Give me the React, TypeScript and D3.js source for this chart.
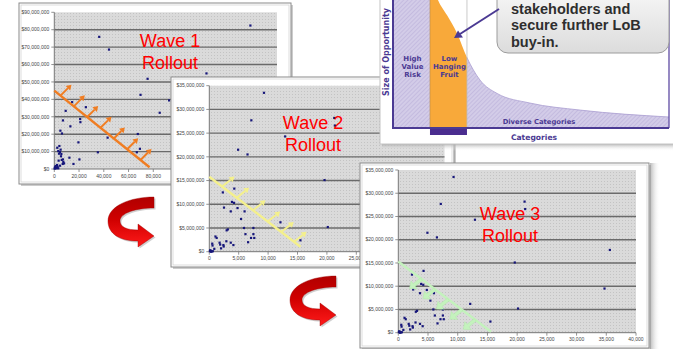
import React from 'react';
import * as d3 from 'd3';

// ---------- DATA ----------
// Wave 1 scatter: [count, $ value]
const wave1Points: [number, number][] = [
  [36300, 75.9e6], [44200, 68.6e6], [75400, 51.8e6], [69700, 42.6e6], [92800, 39.4e6], [85200, 32.3e6],
  [14400, 38.4e6], [25500, 35.5e6], [9200, 33.4e6], [7000, 27.9e6], [20900, 28.7e6], [21100, 26.9e6],
  [13000, 24.5e6], [4900, 22.0e6], [6200, 20.4e6], [43100, 18.0e6], [19500, 15.3e6], [67500, 20.1e6],
  [35200, 9.6e6], [69200, 11.6e6], [66700, 9.6e6], [12200, 6.5e6], [20300, 5.5e6], [15500, 2.9e6],
  [158500, 82.4e6], [123000, 54.9e6],
  [2400, 12.2e6], [4100, 13.2e6], [3200, 10.3e6], [4600, 9.7e6], [3800, 8.8e6], [5400, 7.3e6],
  [5700, 8.6e6], [5100, 11.1e6], [6000, 5.2e6], [7000, 5.5e6], [7300, 4.0e6], [6800, 2.9e6],
  [3500, 4.8e6], [2200, 2.3e6], [1100, 1.7e6], [2700, 1.3e6], [4600, 1.9e6], [500, 0.8e6],
  [1400, 0.4e6], [3200, 0.4e6], [7900, 3.2e6], [300, 0.2e6], [800, 1.0e6], [2000, 0.6e6],
];

// Wave 2 / Wave 3 scatter (same data set)
const wave23Points: [number, number][] = [
  [9300, 33.5e6], [7150, 27.7e6], [21250, 28.2e6], [21350, 26.6e6], [12900, 24.3e6], [4900, 21.5e6],
  [6500, 20.5e6], [35600, 17.8e6], [19600, 15.1e6], [4250, 13.3e6], [2300, 12.5e6], [3850, 10.5e6],
  [4200, 10.3e6], [2500, 9.3e6], [4800, 9.2e6], [3650, 8.5e6], [6000, 8.5e6], [5400, 6.9e6],
  [12100, 6.2e6], [34700, 9.5e6], [20150, 5.2e6], [5900, 5.0e6], [7500, 5.0e6], [3150, 4.7e6],
  [2950, 4.5e6], [6150, 3.7e6], [7500, 3.7e6], [7100, 2.9e6], [7650, 2.9e6], [1050, 3.2e6],
  [1250, 2.9e6], [6600, 2.0e6], [2900, 2.2e6], [3650, 1.9e6], [4100, 1.4e6], [1750, 1.9e6],
  [1850, 1.5e6], [2400, 1.4e6], [2450, 1.1e6], [2000, 0.7e6], [500, 1.7e6], [550, 1.3e6],
  [850, 0.6e6], [15500, 2.4e6], [100, 0.1e6], [250, 0.2e6], [400, 0.05e6], [600, 0.1e6],
  [150, 0.3e6], [300, 0.0],
];

const wave1XTicks = [0, 20000, 40000, 60000, 80000, 100000, 120000, 140000, 160000, 180000];
const wave1YTicks = [0, 10e6, 20e6, 30e6, 40e6, 50e6, 60e6, 70e6, 80e6, 90e6];
const wave23XTicks = [0, 5000, 10000, 15000, 20000, 25000, 30000, 35000, 40000];
const wave23YTicks = [0, 5e6, 10e6, 15e6, 20e6, 25e6, 30e6, 35e6];

// Opportunity long-tail curve: [category position 0-100, size 0-100]
const opportunityCurve: [number, number][] = [
  [13.4, 118], [16.3, 100], [19.6, 88], [23.2, 74], [26.8, 55], [31.5, 37.5],
  [37.7, 27], [49.6, 19.5], [67.8, 14], [100, 8.6],
];
const bandHigh = { lines: ['High', 'Value', 'Risk'], x0: 0, x1: 13.4 };
const bandLow = { lines: ['Low', 'Hanging', 'Fruit'], x0: 13.4, x1: 26.8 };
const calloutLines = ['stakeholders and', 'secure further LoB', 'buy-in.'];

// ---------- HELPERS ----------
const fmtMoney = d3.format('$,');
const fmtNum = d3.format(',');

type Guide = {
  from: [number, number]; to: [number, number]; t: number[];
  dx: number; dy: number; color: string; block?: boolean;
};
type Cfg = {
  id: string;
  frame: { x: number; y: number; w: number; h: number };
  plot: { l: number; r: number; t: number; b: number };
  xTicks: number[]; yTicks: number[]; lastXLabel: number;
  points: [number, number][];
  title: string[]; titleX: number; titleY: number;
  guide: Guide;
};

function ScatterPanel({ c }: { c: Cfg }) {
  const x = d3.scaleLinear().domain([0, c.xTicks[c.xTicks.length - 1]]).range([c.plot.l, c.plot.r]);
  const y = d3.scaleLinear().domain([0, c.yTicks[c.yTicks.length - 1]]).range([c.plot.b, c.plot.t]);
  const g = c.guide;
  const p0 = [x(g.from[0]), y(g.from[1])];
  const p1 = [x(g.to[0]), y(g.to[1])];
  const len = Math.hypot(g.dx, g.dy);
  const ux = g.dx / len, uy = g.dy / len;
  const nx = -uy, ny = ux;
  const f = c.frame;
  return (
    <g>
      <rect x={f.x + 2} y={f.y + 2} width={f.w} height={f.h} fill="#8f8f8f" opacity={0.45} />
      <rect x={f.x} y={f.y} width={f.w} height={f.h} fill="#fff" stroke="#8a8a8a" strokeWidth={1} />
      <rect x={f.x + 2} y={f.y + 2} width={f.w - 4} height={f.h - 4} fill="none" stroke="#d4d4d4" strokeWidth={0.8} />
      <rect x={c.plot.l} y={c.plot.t} width={c.plot.r - c.plot.l} height={c.plot.b - c.plot.t} fill="url(#dots)" />
      {c.yTicks.filter((v, i) => i > 0 && i < c.yTicks.length - 1).map((v) => (
        <line key={'g' + v} x1={c.plot.l} x2={c.plot.r} y1={y(v)} y2={y(v)} stroke="#6a6a6a" strokeWidth={1.4} />
      ))}
      <line x1={c.plot.l} x2={c.plot.l} y1={c.plot.t} y2={c.plot.b} stroke="#777" strokeWidth={1} />
      <line x1={c.plot.l} x2={c.plot.r} y1={c.plot.b} y2={c.plot.b} stroke="#777" strokeWidth={1} />
      {c.yTicks.map((v) => (
        <g key={'y' + v}>
          <line x1={c.plot.l - 3} x2={c.plot.l} y1={y(v)} y2={y(v)} stroke="#777" strokeWidth={0.8} />
          <text x={c.plot.l - 5} y={y(v)} dy="0.35em" textAnchor="end" fontSize={5}
            fontFamily="'Liberation Sans', Arial, sans-serif" fill="#444">{fmtMoney(v)}</text>
        </g>
      ))}
      {c.xTicks.map((v) => (
        <g key={'x' + v}>
          <line x1={x(v)} x2={x(v)} y1={c.plot.b} y2={c.plot.b + 3} stroke="#777" strokeWidth={0.8} />
          {v <= c.lastXLabel && (
            <text x={x(v)} y={c.plot.b + 7} dy="0.35em" textAnchor="middle" fontSize={5}
              fontFamily="'Liberation Sans', Arial, sans-serif" fill="#444">{fmtNum(v)}</text>
          )}
        </g>
      ))}
      {c.points.map((p, i) => (
        <rect key={'p' + i} x={x(p[0]) - 1.1} y={y(p[1]) - 1.1} width={2.2} height={2.2} fill="#16167a" />
      ))}
      <line x1={p0[0]} y1={p0[1]} x2={p1[0]} y2={p1[1]} stroke={g.color} strokeWidth={2.4} />
      {g.t.map((t, i) => {
        const bx = p0[0] + (p1[0] - p0[0]) * t;
        const by = p0[1] + (p1[1] - p0[1]) * t;
        const tx = bx + g.dx, ty = by + g.dy;
        if (g.block) {
          const hl = 6, sw = 1.6, hw = 5;
          const sx = tx - ux * hl, sy = ty - uy * hl;
          const pts = [
            [bx + nx * sw, by + ny * sw], [sx + nx * sw, sy + ny * sw], [sx + nx * hw, sy + ny * hw],
            [tx, ty], [sx - nx * hw, sy - ny * hw], [sx - nx * sw, sy - ny * sw], [bx - nx * sw, by - ny * sw],
          ];
          return <polygon key={'a' + i} points={pts.map((q) => q.join(',')).join(' ')} fill={g.color} stroke="#b0e8a8" strokeWidth={0.5} />;
        }
        const hl = 5, hw = 3.2;
        const sx = tx - ux * hl, sy = ty - uy * hl;
        const head = [[tx, ty], [sx + nx * hw, sy + ny * hw], [sx - nx * hw, sy - ny * hw]];
        return (
          <g key={'a' + i}>
            <line x1={bx} y1={by} x2={sx} y2={sy} stroke={g.color} strokeWidth={2} />
            <polygon points={head.map((q) => q.join(',')).join(' ')} fill={g.color} />
          </g>
        );
      })}
      {c.title.map((s, i) => (
        <text key={'t' + i} x={c.titleX} y={c.titleY + i * 21.7} textAnchor="middle" fontSize={18}
          fontFamily="'Liberation Sans', Arial, sans-serif" fill="#ff0000">{s}</text>
      ))}
    </g>
  );
}

function OpportunityPanel() {
  const x = d3.scaleLinear().domain([0, 100]).range([393, 669]);
  const y = d3.scaleLinear().domain([0, 100]).range([128, 0]);
  const area = d3.area<[number, number]>().x((d) => x(d[0])).y0(y(0)).y1((d) => y(d[1])).curve(d3.curveMonotoneX);
  const line = d3.line<[number, number]>().x((d) => x(d[0])).y((d) => y(d[1])).curve(d3.curveMonotoneX);
  const purple = '#4b3a93';
  const font = "'DejaVu Sans', Verdana, sans-serif";
  const bands = [bandHigh, bandLow];
  return (
    <g>
      <defs>
        <clipPath id="oppClip"><rect x={x(0)} y={y(100)} width={x(100) - x(0)} height={y(0) - y(100)} /></clipPath>
        <clipPath id="lowClip"><rect x={x(bandLow.x0)} y={y(100)} width={x(bandLow.x1) - x(bandLow.x0)} height={y(0) - y(100)} /></clipPath>
        <clipPath id="tailClip"><rect x={x(bandLow.x1)} y={y(100)} width={x(100) - x(bandLow.x1)} height={y(0) - y(100)} /></clipPath>
        <linearGradient id="callGrad" x1="0" y1="0" x2="0" y2="1">
          <stop offset="0" stopColor="#fbfbfb" />
          <stop offset="1" stopColor="#dcdcdc" />
        </linearGradient>
        <linearGradient id="panelShadow" x1="0" y1="0" x2="0" y2="1">
          <stop offset="0" stopColor="#a8a8a8" stopOpacity={0.8} />
          <stop offset="1" stopColor="#ffffff" stopOpacity={0} />
        </linearGradient>
      </defs>
      <rect x={382} y={144} width={300} height={7} fill="url(#panelShadow)" />
      <rect x={380} y={-6} width={300} height={150} fill="#fff" stroke="#c4c4c4" strokeWidth={1} />
      <g clipPath="url(#oppClip)">
        <rect x={x(bandHigh.x0)} y={y(100)} width={x(bandHigh.x1) - x(bandHigh.x0)} height={y(0) - y(100)} fill="url(#hatch)" />
        <path d={area(opportunityCurve) || ''} fill="url(#hatch)" clipPath="url(#tailClip)" />
        <path d={area(opportunityCurve) || ''} fill="#f8a93a" clipPath="url(#lowClip)" />
        <path d={line(opportunityCurve) || ''} fill="none" stroke="#a99dd0" strokeWidth={0.8} clipPath="url(#tailClip)" />
        <line x1={x(bandLow.x1)} x2={x(bandLow.x1)} y1={y(100)} y2={y(0)} stroke="#bdbdbd" strokeWidth={0.8} />
        <line x1={x(bandLow.x0)} x2={x(bandLow.x0)} y1={y(100)} y2={y(0)} stroke="#b38a50" strokeWidth={0.6} />
      </g>
      <line x1={x(100)} x2={x(100)} y1={-6} y2={y(0)} stroke="#6a58aa" strokeWidth={1.4} />
      <line x1={x(0)} x2={x(0)} y1={-6} y2={y(0) + 1} stroke={purple} strokeWidth={2} />
      <line x1={x(0) - 1} x2={x(100)} y1={y(0)} y2={y(0)} stroke={purple} strokeWidth={2} />
      <rect x={x(bandLow.x0)} y={y(0) + 1} width={x(bandLow.x1) - x(bandLow.x0)} height={6} fill="#4a2d8f" />
      {bands.map((b) => b.lines.map((s, i) => (
        <text key={s} x={(x(b.x0) + x(b.x1)) / 2 + 1} y={60.5 + i * 8} textAnchor="middle" fontSize={7}
          fontWeight="bold" fontFamily={font} fill={purple}>{s}</text>
      )))}
      <text x={539} y={123.5} textAnchor="middle" fontSize={6.8} fontWeight="bold" fontFamily={font} fill={purple}>Diverse Categories</text>
      <text x={534} y={139.5} textAnchor="middle" fontSize={7.6} fontWeight="bold" fontFamily={font} fill={purple}>Categories</text>
      <text transform="translate(389,52) rotate(-90)" textAnchor="middle" fontSize={8} fontWeight="bold" fontFamily={font} fill={purple}>Size of Opportunity</text>
      <rect x={497} y={-20} width={172} height={73} rx={11} fill="url(#callGrad)" stroke="#9c9c9c" strokeWidth={1} />
      {calloutLines.map((s, i) => (
        <text key={s} x={511} y={13.5 + i * 16.6} fontSize={14.5} fontWeight="bold"
          fontFamily="'Liberation Sans', Arial, sans-serif" fill="#2e2e2e">{s}</text>
      ))}
      <line x1={499} y1={9} x2={460} y2={34} stroke={purple} strokeWidth={2} />
      <polygon points="454,38 458,30.5 463,37.5" fill={purple} />
    </g>
  );
}

const uturnPath = 'M46,0 C22,0 0,9 0,24 C0,37 12,44 30,44 L30,50 L46,39 L30,27 L30,33 C19,33 12,30 12,24 C12,16 28,11 46,11 Z';

function RedArrow({ tx, ty }: { tx: number; ty: number }) {
  return (
    <g transform={`translate(${tx},${ty})`}>
      <path d={uturnPath} transform="translate(1.5,1.5)" fill="#777" opacity={0.35} />
      <path d={uturnPath} fill="url(#redGrad)" stroke="#9a0000" strokeWidth={0.4} />
    </g>
  );
}

const panels: Cfg[] = [
  {
    id: 'w1', frame: { x: 19, y: 3, w: 272, h: 181 }, plot: { l: 54.3, r: 277, t: 12.3, b: 169 },
    xTicks: wave1XTicks, yTicks: wave1YTicks, lastXLabel: 80000, points: wave1Points,
    title: ['Wave 1', 'Rollout'], titleX: 170, titleY: 47,
    guide: { from: [0, 45e6], to: [77000, 1e6], t: [0.065, 0.205, 0.345, 0.485, 0.625, 0.765, 0.905], dx: 11, dy: -11, color: '#f07d22' },
  },
  {
    id: 'w2', frame: { x: 171, y: 77, w: 283, h: 190 }, plot: { l: 209.3, r: 444.5, t: 85.7, b: 251.7 },
    xTicks: wave23XTicks, yTicks: wave23YTicks, lastXLabel: 25000, points: wave23Points,
    title: ['Wave 2', 'Rollout'], titleX: 313, titleY: 129.3,
    guide: { from: [0, 15.8e6], to: [15500, 1.05e6], t: [0.14, 0.3, 0.48, 0.64, 0.79, 0.93], dx: 12.5, dy: -10, color: '#f4f08c' },
  },
  {
    id: 'w3', frame: { x: 360, y: 163, w: 289, h: 185 }, plot: { l: 398.3, r: 636, t: 170, b: 332.7 },
    xTicks: wave23XTicks, yTicks: wave23YTicks, lastXLabel: 40000, points: wave23Points,
    title: ['Wave 3', 'Rollout'], titleX: 510, titleY: 220,
    guide: { from: [0, 15.3e6], to: [15600, 0.2e6], t: [0.25, 0.395, 0.54, 0.685, 0.83], dx: -12, dy: 9.5, color: '#c4f2bd', block: true },
  },
];

export default function App() {
  return (
    <svg width={673} height={349} viewBox="0 0 673 349"
      style={{ position: 'absolute', left: 0, top: 0, display: 'block', background: '#fff' }}>
      <defs>
        <pattern id="dots" width={3} height={3} patternUnits="userSpaceOnUse">
          <rect width={3} height={3} fill="#dadada" />
          <rect x={1} y={1} width={1} height={1} fill="#c3c3c3" />
        </pattern>
        <pattern id="hatch" width={3} height={3} patternUnits="userSpaceOnUse" patternTransform="rotate(45)">
          <rect width={3} height={3} fill="#d3cce8" />
          <line x1={0} y1={0} x2={0} y2={3} stroke="#b6abd6" strokeWidth={1} />
        </pattern>
        <linearGradient id="redGrad" x1="0" y1="0" x2="0" y2="1">
          <stop offset="0" stopColor="#b00000" />
          <stop offset="0.45" stopColor="#d00000" />
          <stop offset="1" stopColor="#ff1a1a" />
        </linearGradient>
        <linearGradient id="sideShadow" x1="0" y1="0" x2="1" y2="0">
          <stop offset="0" stopColor="#9a9a9a" stopOpacity={0.7} />
          <stop offset="1" stopColor="#ffffff" stopOpacity={0} />
        </linearGradient>
      </defs>
      <rect width={673} height={349} fill="#fff" />
      <ScatterPanel c={panels[0]} />
      <ScatterPanel c={panels[1]} />
      <OpportunityPanel />
      <rect x={650} y={163} width={10} height={186} fill="url(#sideShadow)" />
      <ScatterPanel c={panels[2]} />
      <RedArrow tx={108} ty={197} />
      <RedArrow tx={290} ty={276} />
    </svg>
  );
}
